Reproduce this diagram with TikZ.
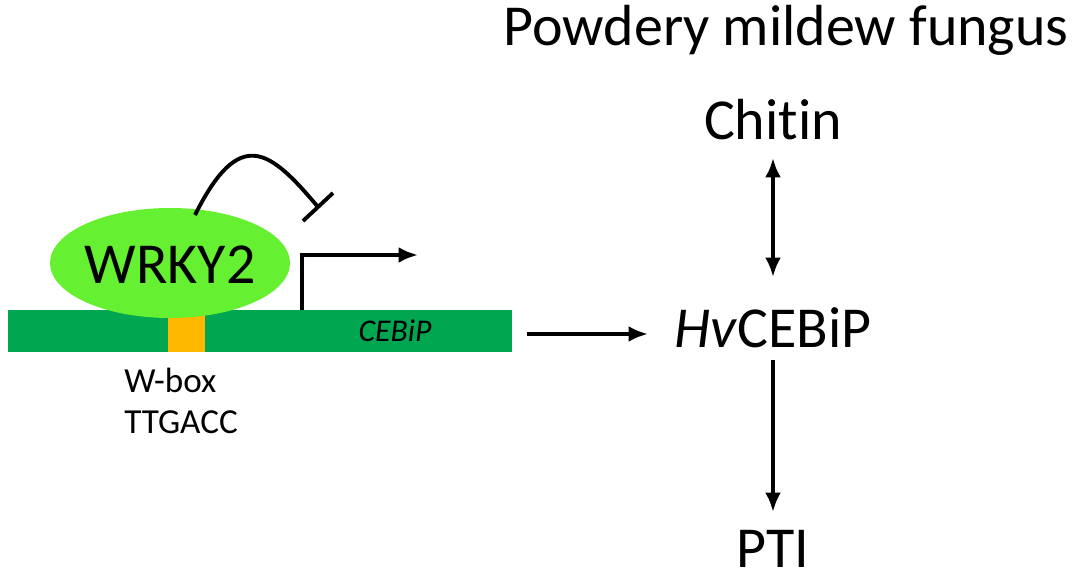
\documentclass[tikz,border=0pt]{standalone}
\usepackage{fontspec}
\setmainfont[Ligatures=NoCommon]{Carlito}
\usetikzlibrary{arrows.meta,shapes.geometric}
\definecolor{bar}{RGB}{0,166,80}
\definecolor{box}{RGB}{255,184,0}
\definecolor{ell}{RGB}{102,240,50}
\begin{document}
\begin{tikzpicture}[x=0.02cm,y=-0.02cm,
  big/.style={font=\fontsize{33}{36}\selectfont,inner sep=0},
  arr/.style={line width=2.2pt,-{Latex[length=11pt,width=9pt]}}]
\useasboundingbox (0,0) rectangle (1080,584);
\node[big] (fun) at (786,30) {Powdery mildew fungus};
\node[big] (chi) at (773,120) {Chitin};
\node[big] (hv) at (773,328) {\textit{Hv}CEBiP};
\node[big] (pti) at (773,549) {PTI};
\draw[line width=2.2pt,{Latex[length=11pt,width=9pt]}-{Latex[length=11pt,width=9pt]}] (773,158) -- (773,277);
\draw[arr] (773,360) -- (773,512);
\fill[bar] (8,310) rectangle (512,352);
\fill[box] (168,310) rectangle (205,352);
\node[font=\fontsize{18}{20}\selectfont\itshape] (ceb) at (395,331) {CEBiP};
\fill[ell] (170,263) ellipse [x radius=120, y radius=55];
\node[big] (wr) at (170,265) {WRKY2};
\coordinate (p0) at (302,310);
\coordinate (p1) at (302,255);
\coordinate (p2) at (418,255);
\draw[line width=2.2pt,-{Latex[length=11pt,width=9pt]}] (p0) -- (p1) -- (p2);
\coordinate (i0) at (195,215);
\coordinate (i1) at (318,207);
\draw[line width=2.2pt] (i0) .. controls (240,125) and (270,150) .. (i1);
\draw[line width=2.2pt] (303,221) -- (333,193);
\coordinate (a0) at (527,334);
\coordinate (a1) at (648,334);
\draw[arr] (a0) -- (a1);
\node[font=\fontsize{20}{23}\selectfont,align=left,anchor=north west,inner sep=0] (wb) at (124,368) {W-box\\TTGACC};
\end{tikzpicture}
\end{document}
